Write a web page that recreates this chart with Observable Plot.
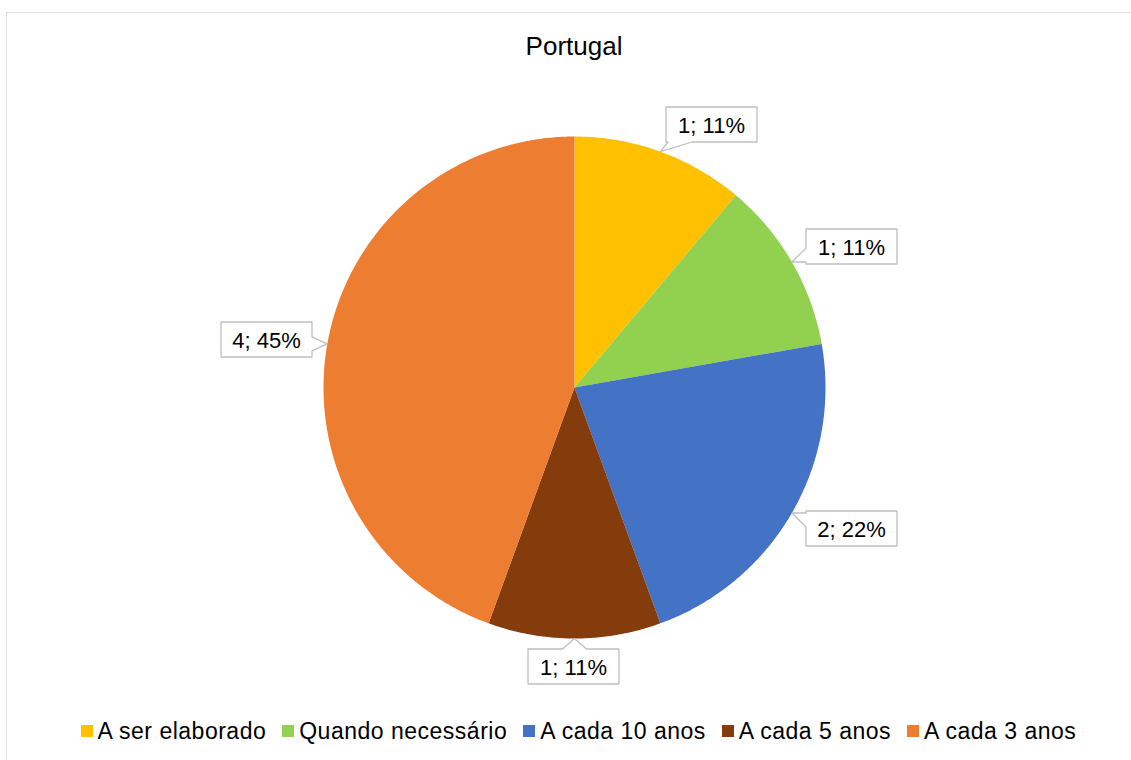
<!DOCTYPE html>
<html><head><meta charset="utf-8">
<script src="https://cdn.jsdelivr.net/npm/d3@7"></script>
<script src="https://cdn.jsdelivr.net/npm/@observablehq/plot@0.6"></script>
<style>
body{margin:0;background:#fff;font-family:"Liberation Sans",Arial,sans-serif;overflow:hidden;}
#wrap{position:relative;width:1131px;height:760px;overflow:hidden;background:#fff;}
#frame{position:absolute;left:6px;top:12px;width:1200px;height:800px;border:1px solid #dcdfe3;box-sizing:border-box;}
#title{position:absolute;top:31px;left:0;width:1148px;text-align:center;font-size:26px;color:#000;line-height:30px;}
#chart{position:absolute;left:0;top:0;}
#legend{position:absolute;top:716px;left:0;width:1157px;display:flex;justify-content:center;gap:16px;font-size:23px;letter-spacing:0.5px;color:#000;line-height:30px;}
#legend .it{display:flex;align-items:center;}
#legend .sw{width:12px;height:12px;margin-right:5px;}
</style></head>
<body>
<div id="wrap">
<div id="frame"></div>
<div id="title">Portugal</div>
<div id="chart"></div>
<div id="legend"></div>
</div>
<script>
// Data
const categories = ["A ser elaborado","Quando necessário","A cada 10 anos","A cada 5 anos","A cada 3 anos"];
const values = [1,1,2,1,4];
const labels = ["1; 11%","1; 11%","2; 22%","1; 11%","4; 45%"];
const colors = ["#FFC000","#92D050","#4472C4","#843C0C","#ED7D31"];

// Layout (pixels)
const W = 1131, H = 760, cx = 574, cy = 387, R = 251;
const labelOffsets = [[137,-263],[277,-141],[277,141],[-1,279],[-308,-48]]; // box centers relative to pie center
const boxW = 91, boxH = 35;

const arcs = d3.pie().sort(null).value(d => d)(values);

// slice polygons
const slicePts = [];
arcs.forEach((a, i) => {
  const cat = categories[i];
  slicePts.push({x: 0, y: 0, cat});
  const n = Math.max(8, Math.ceil((a.endAngle - a.startAngle) / (Math.PI / 360)));
  for (let k = 0; k <= n; k++) {
    const t = a.startAngle + (a.endAngle - a.startAngle) * k / n;
    slicePts.push({x: R * Math.sin(t), y: -R * Math.cos(t), cat});
  }
  slicePts.push({x: 0, y: 0, cat});
});

// callouts
const calloutPts = [];
const textPts = [];
arcs.forEach((a, i) => {
  const mid = (a.startAngle + a.endAngle) / 2;
  const tx = R * Math.sin(mid), ty = -R * Math.cos(mid);
  const [bx, by] = labelOffsets[i];
  const x0 = bx - boxW / 2, x1 = bx + boxW / 2, y0 = by - boxH / 2, y1 = by + boxH / 2;
  const clamp = (v, lo, hi) => Math.max(lo, Math.min(hi, v));
  let side;
  if (ty > y1) side = "bottom"; else if (ty < y0) side = "top"; else if (tx < x0) side = "left"; else side = "right";
  const hw = 12, hv = 7;
  let pts = [];
  pts.push([x0, y0]);
  if (side === "top") { const c = clamp(tx, x0 + hw + 2, x1 - hw - 2); pts.push([c - hw, y0], [tx, ty], [c + hw, y0]); }
  pts.push([x1, y0]);
  if (side === "right") { const c = clamp(ty, y0 + hv + 2, y1 - hv - 2); pts.push([x1, c - hv], [tx, ty], [x1, c + hv]); }
  pts.push([x1, y1]);
  if (side === "bottom") { const c = clamp(tx, x0 + hw + 2, x1 - hw - 2); pts.push([c + hw, y1], [tx, ty], [c - hw, y1]); }
  pts.push([x0, y1]);
  if (side === "left") { const c = clamp(ty, y0 + hv + 2, y1 - hv - 2); pts.push([x0, c + hv], [tx, ty], [x0, c - hv]); }
  pts.push([x0, y0]);
  pts.forEach(p => calloutPts.push({x: p[0], y: p[1], id: i}));
  textPts.push({x: bx, y: by, label: labels[i]});
});

const chart = Plot.plot({
  width: W, height: H, margin: 0,
  x: {domain: [-R, R], range: [cx - R, cx + R], axis: null},
  y: {domain: [-R, R], range: [cy - R, cy + R], axis: null},
  color: {domain: categories, range: colors},
  style: {fontFamily: "Liberation Sans, Arial, sans-serif", background: "none", overflow: "visible"},
  marks: [
    Plot.line(slicePts, {x: "x", y: "y", z: "cat", fill: "cat", stroke: null, curve: "linear"}),
    Plot.line(calloutPts, {x: "x", y: "y", z: "id", fill: "white", stroke: "#bfbfbf", strokeWidth: 1.3, curve: "linear", strokeLinejoin: "miter"}),
    Plot.text(textPts, {x: "x", y: "y", text: "label", fontSize: 22, fill: "#000", dy: 1})
  ]
});
document.getElementById("chart").appendChild(chart);

const leg = document.getElementById("legend");
categories.forEach((c, i) => {
  const it = document.createElement("div"); it.className = "it";
  const sw = document.createElement("div"); sw.className = "sw"; sw.style.background = colors[i];
  const tx = document.createElement("span"); tx.textContent = c;
  it.appendChild(sw); it.appendChild(tx); leg.appendChild(it);
});
</script>
</body></html>
